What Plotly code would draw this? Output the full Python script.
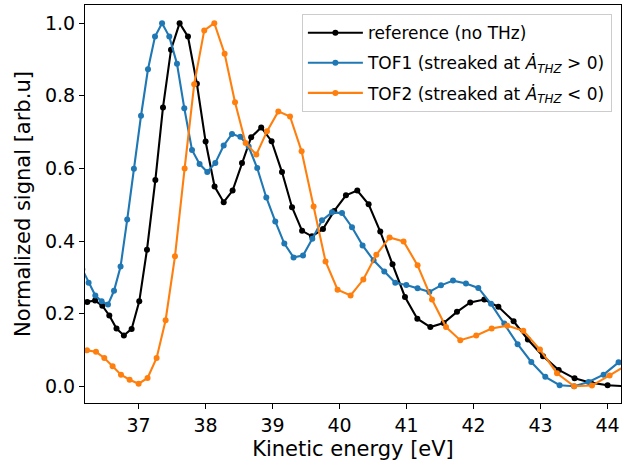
import plotly.graph_objects as go

# Reference (no THz)
ref_energy = [36.12, 36.234, 36.35, 36.458, 36.563, 36.67, 36.78, 36.896, 37.01, 37.125, 37.25,
              37.364, 37.484, 37.612, 37.737, 37.87, 38.0, 38.134, 38.27, 38.403, 38.543,
              38.68, 38.83, 38.985, 39.14, 39.29, 39.44, 39.588, 39.752, 39.92, 40.095,
              40.264, 40.433, 40.607, 40.79, 40.976, 41.16, 41.354, 41.552, 41.752, 41.95,
              42.16, 42.37, 42.597, 42.81, 43.036, 43.27, 43.507, 43.75, 44.0, 44.26]
ref_signal = [0.230, 0.232, 0.236, 0.222, 0.195, 0.159, 0.140, 0.158, 0.234, 0.376, 0.568,
              0.768, 0.927, 1.000, 0.963, 0.833, 0.674, 0.550, 0.507, 0.539, 0.615,
              0.686, 0.713, 0.675, 0.590, 0.493, 0.428, 0.413, 0.433, 0.483, 0.526,
              0.539, 0.501, 0.426, 0.336, 0.246, 0.186, 0.163, 0.174, 0.205, 0.231,
              0.239, 0.219, 0.179, 0.129, 0.083, 0.045, 0.022, 0.010, 0.003, 0.000]

# TOF1 (streaked at dA/dt > 0)
tof1_energy = [36.16, 36.254, 36.354, 36.448, 36.543, 36.633, 36.731, 36.83, 36.93, 37.036, 37.14,
               37.245, 37.35, 37.458, 37.573, 37.682, 37.797, 37.91, 38.025, 38.145, 38.27,
               38.394, 38.518, 38.642, 38.77, 38.906, 39.04, 39.175, 39.313, 39.454, 39.593,
               39.737, 39.887, 40.036, 40.185, 40.343, 40.507, 40.667, 40.831, 40.996, 41.164,
               41.339, 41.513, 41.693, 41.886, 42.07, 42.26, 42.458, 42.657, 42.861, 43.07,
               43.284, 43.5, 43.716, 43.94, 44.164]
tof1_signal = [0.322, 0.285, 0.250, 0.234, 0.225, 0.263, 0.330, 0.459, 0.599, 0.745, 0.873,
               0.963, 1.000, 0.963, 0.888, 0.766, 0.651, 0.612, 0.590, 0.615, 0.663,
               0.695, 0.687, 0.660, 0.601, 0.520, 0.454, 0.393, 0.355, 0.360, 0.406,
               0.457, 0.479, 0.477, 0.438, 0.388, 0.347, 0.316, 0.285, 0.279, 0.270,
               0.260, 0.278, 0.291, 0.283, 0.271, 0.227, 0.173, 0.116, 0.067, 0.026,
               0.003, 0.000, 0.012, 0.032, 0.066]

# TOF2 (streaked at dA/dt < 0)
tof2_energy = [36.10, 36.23, 36.364, 36.488, 36.612, 36.737, 36.866, 37.0, 37.134, 37.269, 37.403,
               37.543, 37.687, 37.83, 37.98, 38.13, 38.284, 38.439, 38.597, 38.757, 38.916,
               39.085, 39.26, 39.433, 39.612, 39.79, 39.97, 40.164, 40.354, 40.548, 40.746,
               40.955, 41.164, 41.379, 41.588, 41.801, 42.04, 42.27, 42.503, 42.742, 42.99,
               43.245, 43.5, 43.767, 44.03, 44.30]
tof2_signal = [0.100, 0.099, 0.095, 0.078, 0.055, 0.032, 0.018, 0.007, 0.023, 0.078, 0.182,
               0.358, 0.600, 0.832, 0.980, 1.000, 0.916, 0.782, 0.670, 0.638, 0.702,
               0.757, 0.743, 0.647, 0.495, 0.344, 0.266, 0.250, 0.294, 0.362, 0.410,
               0.399, 0.333, 0.239, 0.163, 0.127, 0.140, 0.159, 0.167, 0.153, 0.101,
               0.036, 0.000, 0.002, 0.030, 0.060]

x_ticks = [37, 38, 39, 40, 41, 42, 43, 44]
y_ticks = [0.0, 0.2, 0.4, 0.6, 0.8, 1.0]

series = [
    ("reference (no THz)", ref_energy, ref_signal, "#000000"),
    ("TOF1 (streaked at <i>Ȧ</i><sub><i>THZ</i></sub> &gt; 0)", tof1_energy, tof1_signal, "#1f77b4"),
    ("TOF2 (streaked at <i>Ȧ</i><sub><i>THZ</i></sub> &lt; 0)", tof2_energy, tof2_signal, "#ff7f0e"),
]

fig = go.Figure()
for i, (name, xs, ys, col) in enumerate(series):
    fig.add_trace(go.Scatter(
        x=xs, y=ys, name=name, mode="lines+markers", legendgroup=f"g{i}",
        line=dict(color=col, width=2.1),
        marker=dict(color=col, size=6),
    ))

axis_common = dict(
    showline=True, linecolor="black", linewidth=1.1, mirror=True,
    ticks="outside", ticklen=5, tickwidth=1.1, tickcolor="black",
    showgrid=False, zeroline=False,
    tickfont=dict(family="DejaVu Sans", size=19, color="black"),
)

fig.update_layout(
    width=622, height=468,
    margin=dict(l=85, r=1, t=5, b=65),
    paper_bgcolor="white", plot_bgcolor="white",
    font=dict(family="DejaVu Sans", color="black"),
    xaxis=dict(range=[36.2, 44.2], tickvals=x_ticks,
               title=dict(text="Kinetic energy [eV]", font=dict(size=21), standoff=6),
               **axis_common),
    yaxis=dict(range=[-0.046, 1.05], tickvals=y_ticks, tickformat=".1f",
               title=dict(text="Normalized signal [arb.u]", font=dict(size=21), standoff=8),
               **axis_common),
    legend=dict(x=0.983, xanchor="right", y=0.977, yanchor="top",
                bgcolor="rgba(255,255,255,0.8)", bordercolor="#cccccc", borderwidth=1,
                font=dict(family="DejaVu Sans", size=17, color="black"),
                itemwidth=55, tracegroupgap=5),
    showlegend=True,
)

fig.write_html("out.html")
